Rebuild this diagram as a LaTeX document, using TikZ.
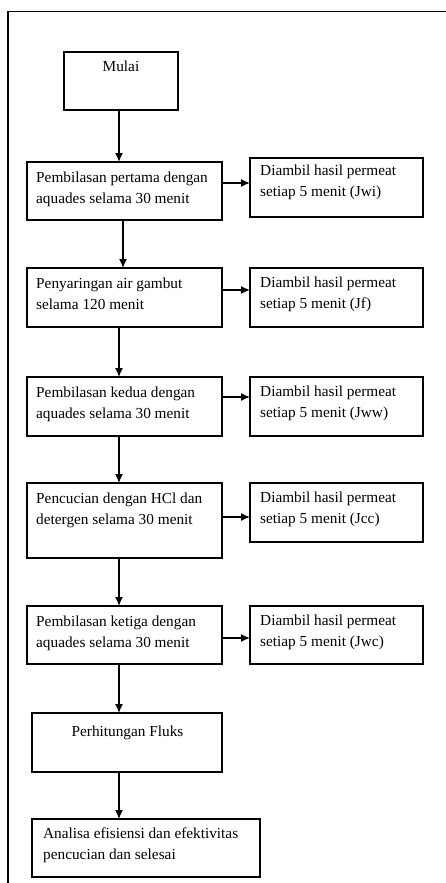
\documentclass[tikz,border=0pt]{standalone}
\usepackage{fontspec}
\setmainfont{Liberation Serif}
\usetikzlibrary{arrows.meta,calc}
\begin{document}
\begin{tikzpicture}[x=1pt,y=-1pt,
  box/.style={draw,line width=1.4pt,inner sep=0pt,outer sep=0pt},
  txt/.style={inner sep=0pt,anchor=north west,align=left,font=\fontsize{15.3}{21}\selectfont},
  ctxt/.style={inner sep=0pt,anchor=north,align=center,font=\fontsize{15.3}{21}\selectfont},
  arr/.style={line width=1.4pt,-{Latex[length=9pt,width=8pt]}}]
\useasboundingbox (0,0) rectangle (446,883);
\fill[white] (0,0) rectangle (446,883);
% outer frame (cut off by the page)
\draw[line width=1.2pt] (8,883) -- (8,11.5) -- (446,11.5);
% boxes
\node[box,minimum width=114pt,minimum height=58pt] (mulai) at (121,81) {};
\node[box,minimum width=195pt,minimum height=58pt] (b1) at (124.5,191) {};
\node[box,minimum width=173pt,minimum height=59pt] (r1) at (336.5,187.5) {};
\node[box,minimum width=195pt,minimum height=59pt] (b2) at (124.5,297.5) {};
\node[box,minimum width=173pt,minimum height=59pt] (r2) at (336.5,297.5) {};
\node[box,minimum width=195pt,minimum height=59pt] (b3) at (124.5,406.5) {};
\node[box,minimum width=173pt,minimum height=59pt] (r3) at (336.5,406.5) {};
\node[box,minimum width=195pt,minimum height=75pt] (b4) at (124.5,520.5) {};
\node[box,minimum width=173pt,minimum height=59pt] (r4) at (336.5,512.5) {};
\node[box,minimum width=195pt,minimum height=58pt] (b5) at (124.5,635) {};
\node[box,minimum width=173pt,minimum height=58pt] (r5) at (336.5,635) {};
\node[box,minimum width=190pt,minimum height=59pt] (b6) at (127,742.5) {};
\node[box,minimum width=228pt,minimum height=58pt] (b7) at (146,848) {};
% texts
\node[ctxt] (tm) at ([yshift=-9pt]mulai.north) {Mulai};
\node[txt] (t1) at ([shift={(9,10)}]b1.north west) {Pembilasan pertama dengan\\aquades selama 30 menit};
\node[txt] (s1) at ([shift={(10,7)}]r1.north west) {Diambil hasil permeat\\setiap 5 menit (Jwi)};
\node[txt] (t2) at ([shift={(9,10)}]b2.north west) {Penyaringan air gambut\\selama 120 menit};
\node[txt] (s2) at ([shift={(10,9)}]r2.north west) {Diambil hasil permeat\\setiap 5 menit (Jf)};
\node[txt] (t3) at ([shift={(9,10)}]b3.north west) {Pembilasan kedua dengan\\aquades selama 30 menit};
\node[txt] (s3) at ([shift={(10,9)}]r3.north west) {Diambil hasil permeat\\setiap 5 menit (Jww)};
\node[txt] (t4) at ([shift={(9,10)}]b4.north west) {Pencucian dengan HCl dan\\detergen selama 30 menit};
\node[txt] (s4) at ([shift={(10,9)}]r4.north west) {Diambil hasil permeat\\setiap 5 menit (Jcc)};
\node[txt] (t5) at ([shift={(9,10)}]b5.north west) {Pembilasan ketiga dengan\\aquades selama 30 menit};
\node[txt] (s5) at ([shift={(10,9)}]r5.north west) {Diambil hasil permeat\\setiap 5 menit (Jwc)};
\node[ctxt] (t6) at ([shift={(0.5,13)}]b6.north) {Perhitungan Fluks};
\node[txt] (t7) at ([shift={(11,9)}]b7.north west) {Analisa efisiensi dan efektivitas\\pencucian dan selesai};
% vertical arrows
\draw[arr] ([xshift=-2pt]mulai.south) -- ([xshift=-2pt]mulai.south |- b1.north);
\draw[arr] ([xshift=-1.5pt]b1.south) -- ([xshift=-1.5pt]b1.south |- b2.north);
\draw[arr] ([xshift=-5.5pt]b2.south) -- ([xshift=-5.5pt]b2.south |- b3.north);
\draw[arr] ([xshift=-5.5pt]b3.south) -- ([xshift=-5.5pt]b3.south |- b4.north);
\draw[arr] ([xshift=-5.5pt]b4.south) -- ([xshift=-5.5pt]b4.south |- b5.north);
\draw[arr] ([xshift=-5.5pt]b5.south) -- ([xshift=-5.5pt]b5.south |- b6.north);
\draw[arr] ([xshift=-8pt]b6.south) -- ([xshift=-8pt]b6.south |- b7.north);
% horizontal arrows
\draw[arr] ([yshift=-21pt]b1.north east) -- ([yshift=-21pt]b1.north east -| r1.west);
\draw[arr] ([yshift=-22pt]b2.north east) -- ([yshift=-22pt]b2.north east -| r2.west);
\draw[arr] ([yshift=-20pt]b3.north east) -- ([yshift=-20pt]b3.north east -| r3.west);
\draw[arr] ([yshift=-34pt]b4.north east) -- ([yshift=-34pt]b4.north east -| r4.west);
\draw[arr] ([yshift=-32pt]b5.north east) -- ([yshift=-32pt]b5.north east -| r5.west);
\end{tikzpicture}
\end{document}
